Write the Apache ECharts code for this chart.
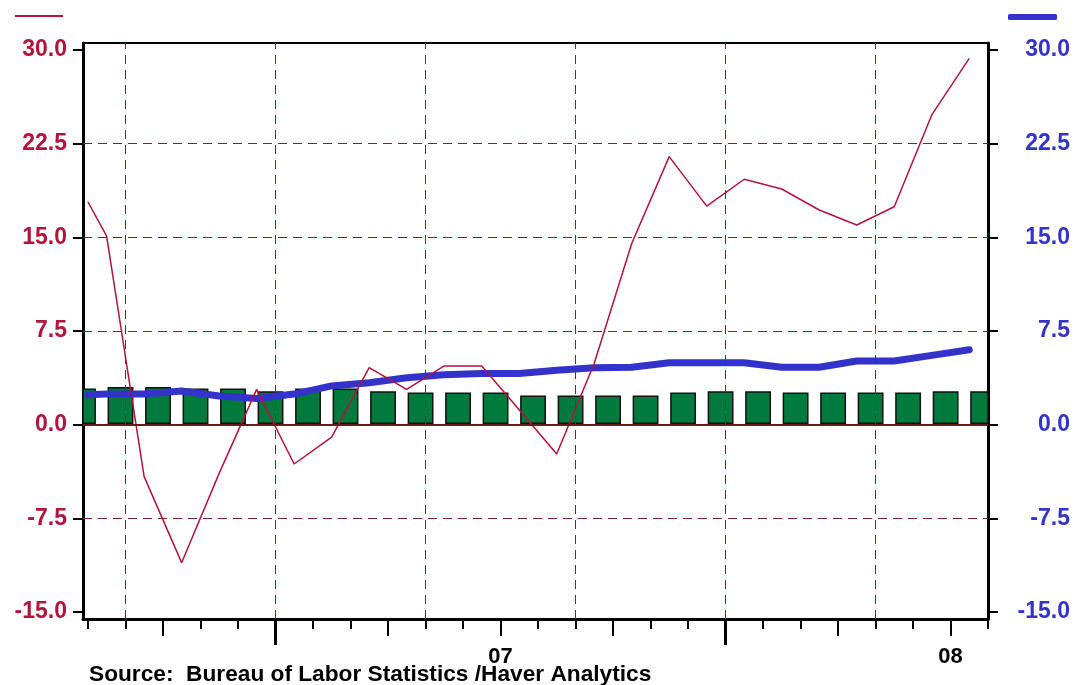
<!DOCTYPE html>
<html>
<head>
<meta charset="utf-8">
<script src="https://cdn.jsdelivr.net/npm/echarts@6/dist/echarts.min.js"></script>
<style>
html,body{margin:0;padding:0;background:#fff;}
#chart{width:1075px;height:685px;}
</style>
</head>
<body>
<div id="chart"></div>
<script>
// ---- data (x in months; 0 = first tick, Aug 2006) ----
const redMonths  = [0, 0.5, 1.5, 2.5, 3.5, 4.5, 5.5, 6.5, 7.5, 8.5, 9.5, 10.5, 11.5, 12.5, 13.5, 14.5, 15.5, 16.5, 17.5, 18.5, 19.5, 20.5, 21.5, 22.5, 23.5];
const redValues  = [17.85, 15.1, -4.16, -11.05, -3.9, 2.83, -3.15, -1.0, 4.56, 2.83, 4.7, 4.7, 1.2, -2.35, 4.9, 14.5, 21.46, 17.5, 19.65, 18.87, 17.19, 15.99, 17.45, 24.8, 29.33];
const blueMonths = [0, 0.5, 1.5, 2.5, 3.5, 4.5, 5.5, 6.5, 7.5, 8.5, 9.5, 10.5, 11.5, 12.5, 13.5, 14.5, 15.5, 16.5, 17.5, 18.5, 19.5, 20.5, 21.5, 22.5, 23.5];
const blueValues = [2.4, 2.45, 2.45, 2.7, 2.3, 2.1, 2.45, 3.1, 3.35, 3.75, 4.0, 4.1, 4.1, 4.35, 4.55, 4.6, 4.95, 4.95, 4.95, 4.6, 4.6, 5.1, 5.1, 5.55, 6.0];
const barMonths  = [-0.13, 0.87, 1.87, 2.87, 3.87, 4.87, 5.87, 6.87, 7.87, 8.87, 9.87, 10.87, 11.87, 12.87, 13.87, 14.87, 15.87, 16.87, 17.87, 18.87, 19.87, 20.87, 21.87, 22.87, 23.87];
const barValues  = [2.83, 2.96, 2.96, 2.83, 2.83, 2.62, 2.83, 2.83, 2.62, 2.51, 2.51, 2.51, 2.27, 2.27, 2.27, 2.27, 2.51, 2.62, 2.62, 2.51, 2.51, 2.51, 2.51, 2.62, 2.62];

const monthTicks   = [0, 1, 2, 3, 4, 5, 6, 7, 8, 9, 10, 11, 12, 13, 14, 15, 16, 17, 18, 19, 20, 21, 22, 23, 24];
const quarterTicks = [2, 5, 8, 11, 14, 17, 20, 23];
const yearTicks    = [5, 17];
const yearLabelPos = [11, 23];
const yearLabelText = ['07', '08'];
const vGridMonths  = [1, 5, 9, 13, 17, 21];
const yTicks       = [-15, -7.5, 0, 7.5, 15, 22.5, 30];
const yGridValues  = [-7.5, 7.5, 15, 22.5];
const sourceText   = 'Source:  Bureau of Labor Statistics /Haver Analytics';

// ---- styling ----
const RED = '#b5123c', BLUE = '#3333cc', GREEN = '#007a3d', GRIDC = '#7a2424';
const FONT = 'Liberation Sans, Arial, sans-serif';
const X_MIN = -0.13, X_MAX = 24, Y_MIN = -15.56, Y_MAX = 30.56;
const BAR_FRACTION = 0.65; // bar width as fraction of a month

const zip = (xs, ys) => xs.map((x, i) => [x, ys[i]]);

function xAxisBase(extra) {
  return Object.assign({
    type: 'value', min: X_MIN, max: X_MAX, position: 'bottom',
    axisLine: { show: false, onZero: false }, splitLine: { show: false },
    axisLabel: { show: false }, axisTick: { show: false }
  }, extra);
}
function yAxisBase(pos, extra) {
  return Object.assign({
    type: 'value', min: Y_MIN, max: Y_MAX, position: pos,
    axisLine: { show: true, onZero: false, lineStyle: { color: '#000', width: 3 } },
    axisTick: { show: true, customValues: yTicks, length: 10, lineStyle: { color: '#000', width: 2 } },
    splitLine: { show: false }
  }, extra);
}

const chart = echarts.init(document.getElementById('chart'), null, { renderer: 'canvas' });
chart.setOption({
  animation: false,
  backgroundColor: '#fff',
  title: {
    text: sourceText, left: 89, top: 663, padding: 0,
    textStyle: { fontSize: 22.7, fontWeight: 'bold', color: '#000', fontFamily: FONT }
  },
  legend: [
    { data: ['Red'], left: 15, top: 15, icon: 'rect', itemWidth: 48, itemHeight: 2,
      formatter: () => '', selectedMode: false, padding: 0, itemGap: 0 },
    { data: ['Blue'], right: 18, top: 14, icon: 'roundRect', itemWidth: 49, itemHeight: 6,
      formatter: () => '', selectedMode: false, padding: 0, itemGap: 0 }
  ],
  grid: { left: 83, right: 87, top: 43, bottom: 66, show: true, borderColor: '#000', borderWidth: 2, containLabel: false },
  xAxis: [
    xAxisBase({
      axisLine: { show: true, onZero: false, lineStyle: { color: '#000', width: 3 } },
      axisTick: { show: true, customValues: monthTicks, length: 10, lineStyle: { color: '#000', width: 2 } }
    }),
    xAxisBase({
      axisTick: { show: true, customValues: quarterTicks, length: 17, lineStyle: { color: '#000', width: 2 } }
    }),
    xAxisBase({
      axisTick: { show: true, customValues: yearTicks, length: 26, lineStyle: { color: '#000', width: 3 } },
      axisLabel: {
        show: true, customValues: yearLabelPos, margin: 27,
        formatter: v => yearLabelText[yearLabelPos.indexOf(Math.round(v))] || '',
        color: '#000', fontSize: 22, fontWeight: 'bold', fontFamily: FONT
      }
    })
  ],
  yAxis: [
    yAxisBase('left', {
      axisLabel: {
        customValues: yTicks, formatter: v => Number(v).toFixed(1), margin: 16,
        color: RED, fontSize: 23, fontWeight: 'bold', fontFamily: FONT
      }
    }),
    yAxisBase('right', {
      axisLabel: {
        customValues: yTicks, formatter: v => Number(v).toFixed(1), margin: 82, align: 'right',
        color: BLUE, fontSize: 23, fontWeight: 'bold', fontFamily: FONT
      }
    })
  ],
  series: [
    {
      name: 'grid', type: 'line', data: [], z: 1, silent: true,
      markLine: {
        silent: true, symbol: 'none', label: { show: false }, animation: false,
        lineStyle: { color: GRIDC, width: 1, type: [9, 6] },
        data: yGridValues.map(v => ({ yAxis: v }))
          .concat(vGridMonths.map(m => ({ xAxis: m })))
          .concat([{ yAxis: 0, lineStyle: { type: 'solid', width: 2, color: '#6b1a1a' } }])
      }
    },
    {
      name: 'Bars', type: 'custom', xAxisIndex: 0, yAxisIndex: 1, z: 2,
      data: zip(barMonths, barValues),
      encode: { x: 0, y: 1 },
      renderItem: function (params, api) {
        const x = api.value(0), v = api.value(1);
        const top = api.coord([x, v]);
        const base = api.coord([x, 0]);
        const w = api.size([BAR_FRACTION, 0])[0];
        const rect = echarts.graphic.clipRectByRect(
          { x: top[0] - w / 2, y: top[1], width: w, height: base[1] - top[1] - 1.5 },
          { x: params.coordSys.x, y: params.coordSys.y, width: params.coordSys.width, height: params.coordSys.height }
        );
        if (!rect) return null;
        return {
          type: 'rect', shape: rect,
          style: { fill: GREEN, stroke: '#111', lineWidth: 1.5 }
        };
      }
    },
    {
      name: 'Blue', type: 'line', xAxisIndex: 0, yAxisIndex: 1, z: 3,
      data: zip(blueMonths, blueValues), showSymbol: false, symbol: 'none',
      lineStyle: { color: BLUE, width: 7, cap: 'round', join: 'round' },
      itemStyle: { color: BLUE }
    },
    {
      name: 'Red', type: 'line', xAxisIndex: 0, yAxisIndex: 0, z: 4,
      data: zip(redMonths, redValues), showSymbol: false, symbol: 'none',
      lineStyle: { color: RED, width: 1.5 },
      itemStyle: { color: RED }
    }
  ]
});
</script>
</body>
</html>
